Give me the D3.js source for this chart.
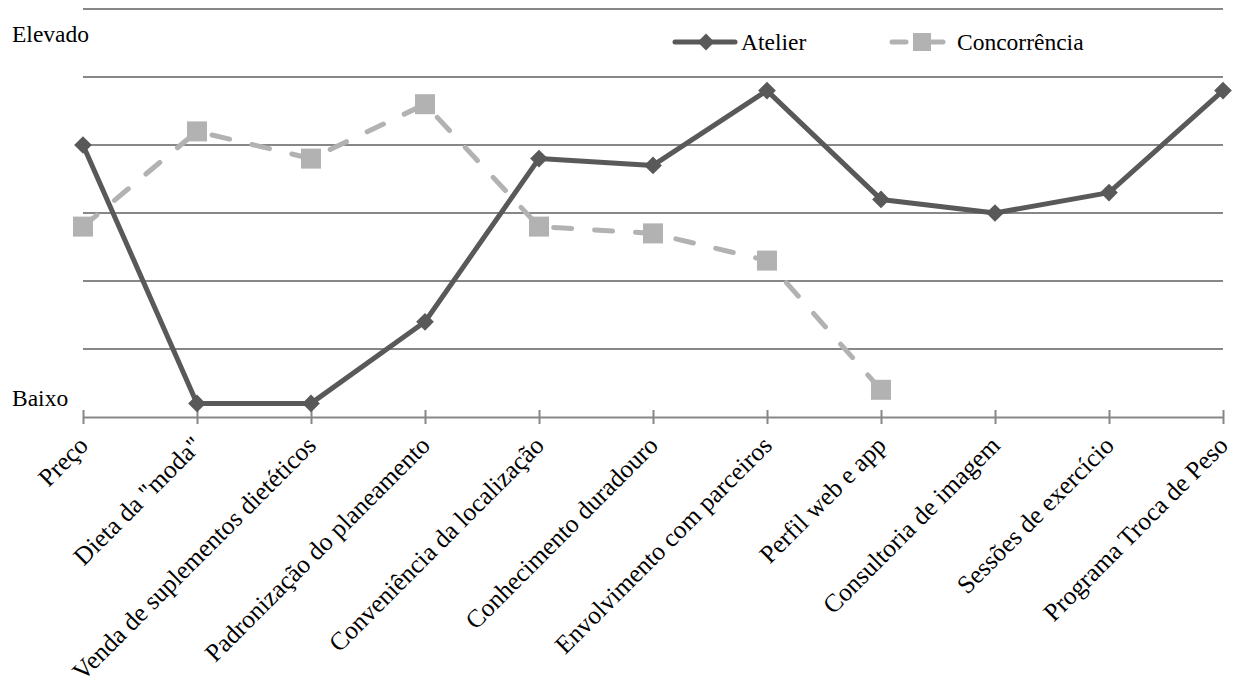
<!DOCTYPE html>
<html><head><meta charset="utf-8">
<script src="https://cdn.jsdelivr.net/npm/d3@7"></script>
<style>body{margin:0;background:#fff}svg{display:block}text{font-family:"Liberation Serif","Times New Roman",serif;fill:#000}</style>
</head><body><svg id="c" width="1237" height="693"></svg>
<script>
const categories = ["Preço","Dieta da \"moda\"","Venda de suplementos dietéticos","Padronização do planeamento","Conveniência da localização","Conhecimento duradouro","Envolvimento com parceiros","Perfil web e app","Consultoria de imagem","Sessões de exercício","Programa Troca de Peso"];
const atelier = [4.0,0.2,0.2,1.4,3.8,3.7,4.8,3.2,3.0,3.3,4.8];
const concorrencia = [2.8,4.2,3.8,4.6,2.8,2.7,2.3,0.4];
const yTicks = [0,1,2,3,4,5,6];
const seriesNames = ["Atelier","Concorrência"];

const svg = d3.select("#c");
const x = d3.scalePoint().domain(categories).range([83,1223]);
const y = d3.scaleLinear().domain([0,6]).range([417,9]);
const grid = "#878787";
const FONT = "Liberation Serif";

svg.append("g").selectAll("line").data(yTicks.slice(1)).join("line")
  .attr("x1",83).attr("x2",1223).attr("y1",d=>y(d)).attr("y2",d=>y(d))
  .attr("stroke",grid).attr("stroke-width",2);

const ax = svg.append("g").attr("transform","translate(0,417)")
  .call(d3.axisBottom(x).tickSize(0).tickPadding(0));
ax.attr("font-family",FONT);
ax.select(".domain").attr("stroke",grid).attr("stroke-width",2);
ax.selectAll(".tick line").remove();
ax.selectAll(".tick").append("line").attr("y1",-7).attr("y2",7).attr("stroke",grid).attr("stroke-width",2);
ax.selectAll(".tick text").attr("font-size",25.5).attr("font-family",FONT).attr("fill","#000")
  .attr("text-anchor","end").attr("dy",0).attr("transform","translate(6,30) rotate(-45)");

svg.append("text").attr("x",12).attr("y",42).attr("font-size",23.5).attr("font-family",FONT).text("Elevado");
svg.append("text").attr("x",12).attr("y",406).attr("font-size",23.5).attr("font-family",FONT).text("Baixo");

const line = d3.line().x((d,i)=>x(categories[i])).y(d=>y(d));
svg.append("path").datum(concorrencia).attr("d",line).attr("fill","none")
  .attr("stroke","#b2b2b2").attr("stroke-width",5).attr("stroke-dasharray","18,23").attr("stroke-linecap","round");
svg.append("g").selectAll("rect").data(concorrencia).join("rect")
  .attr("x",(d,i)=>x(categories[i])-10).attr("y",d=>y(d)-10).attr("width",20).attr("height",20).attr("fill","#b2b2b2");

svg.append("path").datum(atelier).attr("d",line).attr("fill","none")
  .attr("stroke","#595959").attr("stroke-width",5).attr("stroke-linejoin","round");
const dia = d3.symbol().type(d3.symbolDiamond2).size(200);
svg.append("g").selectAll("path").data(atelier).join("path")
  .attr("d",dia).attr("transform",(d,i)=>`translate(${x(categories[i])},${y(d)})`).attr("fill","#595959");

// legend
const lg = svg.append("g");
lg.append("line").attr("x1",675).attr("x2",735).attr("y1",42).attr("y2",42).attr("stroke","#595959").attr("stroke-width",5).attr("stroke-linecap","round");
lg.append("path").attr("d",d3.symbol().type(d3.symbolDiamond2).size(180)).attr("transform","translate(706,42)").attr("fill","#595959");
lg.append("text").attr("x",741).attr("y",50).attr("font-size",23.5).attr("font-family",FONT).text(seriesNames[0]);
lg.append("line").attr("x1",892).attr("x2",906).attr("y1",42).attr("y2",42).attr("stroke","#b2b2b2").attr("stroke-width",5).attr("stroke-linecap","round");
lg.append("line").attr("x1",928).attr("x2",943).attr("y1",42).attr("y2",42).attr("stroke","#b2b2b2").attr("stroke-width",5).attr("stroke-linecap","round");
lg.append("rect").attr("x",913).attr("y",33).attr("width",18).attr("height",18).attr("fill","#b2b2b2");
lg.append("text").attr("x",957).attr("y",50).attr("font-size",23.5).attr("font-family",FONT).text(seriesNames[1]);
</script></body></html>
